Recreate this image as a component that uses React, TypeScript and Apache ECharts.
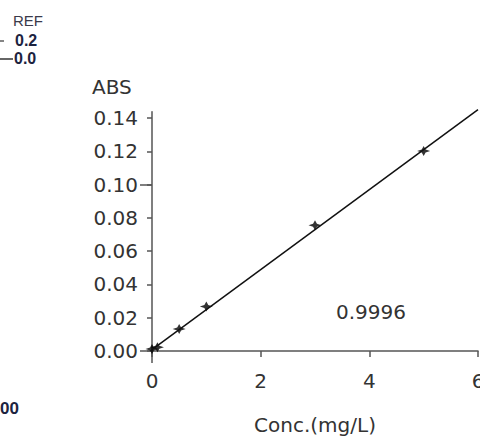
import React, { useEffect, useRef } from "react";
import * as echarts from "echarts";

const concValues = [0, 0.1, 0.5, 1, 3, 5];
const absValues = [0.0012, 0.0022, 0.0132, 0.0268, 0.0756, 0.1202];
const fitX = [0, 6];
const fitY = [0.0008, 0.145];
const yTicks = [0, 0.02, 0.04, 0.06, 0.08, 0.1, 0.12, 0.14];
const yLongTicks = [0, 0.1];
const xTicks = [0, 2, 4, 6];
const rValue = "0.9996";
const yName = "ABS";
const xName = "Conc.(mg/L)";

const FONT = "'DejaVu Sans', sans-serif";
const AXIS_COLOR = "#555";
const TEXT_COLOR = "#333";

export default function App() {
  const ref = useRef<HTMLDivElement>(null);
  useEffect(() => {
    if (!ref.current) return;
    const chart = echarts.init(ref.current, null, { renderer: "svg" });
    const star =
      "path://M0,-1 L0.3,-0.3 L1,0 L0.3,0.3 L0,1 L-0.3,0.3 L-1,0 L-0.3,-0.3 Z";
    chart.setOption({
      animation: false,
      backgroundColor: "#fff",
      grid: {
        left: 152,
        right: 2,
        top: 111.7,
        bottom: 86,
        outerBoundsMode: "none",
      },
      xAxis: [
        {
          type: "value",
          min: 0,
          max: 6,
          interval: 2,
          splitLine: { show: false },
          axisLine: { show: true, onZero: false, lineStyle: { color: AXIS_COLOR, width: 1.5 } },
          axisTick: { show: true, length: 6, customValues: xTicks, lineStyle: { color: AXIS_COLOR, width: 1.5 } },
          axisLabel: {
            customValues: xTicks,
            margin: 20,
            color: TEXT_COLOR,
            fontFamily: FONT,
            fontSize: 20,
          },
          name: xName,
          nameLocation: "middle",
          nameGap: 64,
          nameTextStyle: { color: TEXT_COLOR, fontFamily: FONT, fontSize: 20 },
        },
        {
          type: "value",
          min: 0,
          max: 6,
          position: "bottom",
          splitLine: { show: false },
          axisLine: { show: false },
          axisTick: { show: true, length: 12, customValues: [0], lineStyle: { color: AXIS_COLOR, width: 1.5 } },
          axisLabel: { show: false },
        },
      ],
      yAxis: [
        {
          type: "value",
          min: 0,
          max: 0.1438,
          splitLine: { show: false },
          axisLine: { show: true, onZero: false, lineStyle: { color: AXIS_COLOR, width: 1.5 } },
          axisTick: { show: true, length: 5, customValues: yTicks, lineStyle: { color: AXIS_COLOR, width: 1.5 } },
          axisLabel: {
            customValues: yTicks,
            margin: 14,
            color: TEXT_COLOR,
            fontFamily: FONT,
            fontSize: 20,
            formatter: (v: number) => v.toFixed(2),
          },
        },
        {
          type: "value",
          min: 0,
          max: 0.1438,
          position: "left",
          splitLine: { show: false },
          axisLine: { show: false },
          axisTick: { show: true, length: 12, customValues: yLongTicks, lineStyle: { color: AXIS_COLOR, width: 1.5 } },
          axisLabel: { show: false },
        },
      ],
      graphic: [
        {
          type: "text",
          left: 92,
          top: 77,
          style: { text: yName, fill: TEXT_COLOR, font: `20px ${FONT}` },
        },
        {
          type: "text",
          left: 336,
          top: 302,
          style: { text: rValue, fill: TEXT_COLOR, font: `20px ${FONT}` },
        },
        {
          type: "text",
          left: 13,
          top: 13,
          style: { text: "REF", fill: "#3a3a4a", font: `15px 'Liberation Sans', Arial, sans-serif` },
        },
        {
          type: "text",
          left: 15,
          top: 32,
          style: { text: "0.2", fill: "#1c2340", font: `bold 16px 'Liberation Sans', Arial, sans-serif` },
        },
        {
          type: "line",
          shape: { x1: 0, y1: 41, x2: 4, y2: 41 },
          style: { stroke: "#333", lineWidth: 1.2 },
        },
        {
          type: "text",
          left: 14,
          top: 50,
          style: { text: "0.0", fill: "#1c2340", font: `bold 16px 'Liberation Sans', Arial, sans-serif` },
        },
        {
          type: "line",
          shape: { x1: 0, y1: 59, x2: 13, y2: 59 },
          style: { stroke: "#333", lineWidth: 1.5 },
        },
        {
          type: "text",
          left: 0,
          top: 400,
          style: { text: "00", fill: "#1c2340", font: `bold 17px 'Liberation Sans', Arial, sans-serif` },
        },
      ],
      series: [
        {
          type: "line",
          data: fitX.map((x, i) => [x, fitY[i]]),
          showSymbol: false,
          symbol: "none",
          lineStyle: { color: "#111", width: 1.5 },
          clip: false,
          silent: true,
        },
        {
          type: "scatter",
          data: concValues.map((x, i) => [x, absValues[i]]),
          symbol: star,
          symbolSize: [13, 10],
          itemStyle: { color: "#000" },
          clip: false,
        },
      ],
    });
    return () => chart.dispose();
  }, []);
  return <div ref={ref} style={{ width: 480, height: 437, position: "absolute", left: 0, top: 0 }} />;
}
